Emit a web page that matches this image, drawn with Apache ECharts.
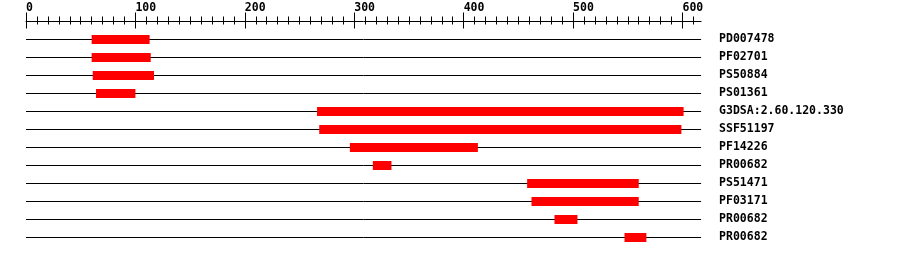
<!DOCTYPE html>
<html>
<head>
<meta charset="utf-8">
<script src="https://cdn.jsdelivr.net/npm/echarts@6/dist/echarts.min.js"></script>
<style>
html,body{margin:0;padding:0;background:#fff;}
#chart{width:900px;height:256px;}
</style>
</head>
<body>
<div id="chart"></div>
<script>
// ---- data ----
const seqLength = 617;
const names = ['PD007478','PF02701','PS50884','PS01361','G3DSA:2.60.120.330','SSF51197','PF14226','PR00682','PS51471','PF03171','PR00682','PR00682'];
const starts = [60, 60, 61, 64, 266, 268, 296, 317, 458, 462, 483, 547];
const ends   = [113, 114, 117, 100, 601, 599, 413, 334, 560, 560, 504, 567];
const majorTicks = [0, 100, 200, 300, 400, 500, 600];
const minorTicks = [];
for (let v = 0; v <= 610; v += 10) minorTicks.push(v);

const FONT = 'DejaVu Sans Mono';
const chart = echarts.init(document.getElementById('chart'), null, {renderer: 'canvas'});

const baseX = {
  type: 'value', min: 0, max: seqLength, position: 'top', offset: 9.5, gridIndex: 0,
  splitLine: {show: false}, axisLabel: {show: false},
  axisLine: {show: false}
};

const option = {
  animation: false,
  backgroundColor: '#fff',
  grid: [{left: 26, top: 30.5, width: 675.1, height: 216, containLabel: false}],
  xAxis: [
    Object.assign({}, baseX, {
      axisLine: {show: true, lineStyle: {color: '#000', width: 1}},
      axisTick: {show: true, inside: false, length: 8.5, customValues: majorTicks, lineStyle: {color: '#000', width: 1}},
      axisLabel: {show: true, customValues: majorTicks, margin: 13, align: 'left', verticalAlign: 'middle',
        color: '#000', fontFamily: FONT, fontWeight: 'bold', fontSize: 11.5}
    }),
    Object.assign({}, baseX, {
      axisTick: {show: true, inside: true, length: 7.5, customValues: majorTicks, lineStyle: {color: '#000', width: 1}}
    }),
    Object.assign({}, baseX, {
      axisTick: {show: true, inside: false, length: 4.5, customValues: minorTicks, lineStyle: {color: '#000', width: 1}}
    }),
    Object.assign({}, baseX, {
      axisTick: {show: true, inside: true, length: 3.5, customValues: minorTicks, lineStyle: {color: '#000', width: 1}}
    })
  ],
  yAxis: [{
    type: 'category', data: names, inverse: true, position: 'right', gridIndex: 0,
    axisLine: {show: false}, axisTick: {show: false}, splitLine: {show: false},
    axisLabel: {show: true, interval: 0, margin: 18, align: 'left', color: '#000',
      fontFamily: FONT, fontWeight: 'bold', fontSize: 11.5}
  }],
  series: [{
    type: 'custom',
    xAxisIndex: 0, yAxisIndex: 0,
    data: names.map((n, i) => [starts[i], ends[i], i]),
    renderItem: function (params, api) {
      const row = api.value(2);
      const l0 = api.coord([0, row]);
      const l1 = api.coord([seqLength, row]);
      const s = api.coord([api.value(0), row]);
      const e = api.coord([api.value(1), row]);
      const h = 9;
      return {
        type: 'group',
        children: [
          {type: 'line', shape: {x1: l0[0], y1: l0[1], x2: l1[0], y2: l1[1]},
           style: {stroke: '#000', lineWidth: 1}},
          {type: 'rect', shape: {x: s[0], y: s[1] - h / 2, width: e[0] - s[0], height: h},
           style: {fill: '#ff0000'}}
        ]
      };
    }
  }]
};
chart.setOption(option);
</script>
</body>
</html>
